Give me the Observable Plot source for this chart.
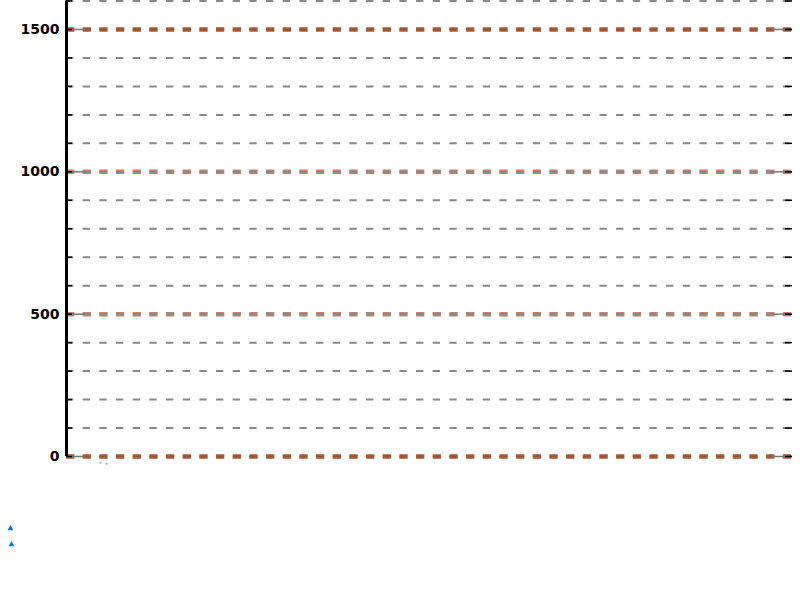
<!DOCTYPE html>
<html>
<head>
<meta charset="utf-8">
<script src="https://cdn.jsdelivr.net/npm/d3@7"></script>
<script src="https://cdn.jsdelivr.net/npm/@observablehq/plot@0.6"></script>
<style>
  html, body { margin: 0; padding: 0; background: #fff; }
  svg { display: block; }
</style>
</head>
<body>
<div id="chart"></div>
<script>
// Tick values
const gridValues = [0, 100, 200, 300, 400, 500, 600, 700, 800, 900, 1000, 1100, 1200, 1300, 1400, 1500, 1600];
const majorValues = [0, 500, 1000, 1500];
const majorLabels = ["0", "500", "1000", "1500"];
// Stray blue marks below the axis
const strayX = [34, 40];
const strayY = [-22, -25];
const triX = [-56, -55];
const triY = [-253, -309];

const minorValues = gridValues.filter(v => !majorValues.includes(v));
const majors = majorValues.map((v, i) => ({v, label: majorLabels[i]}));
const strays = strayX.map((x, i) => ({x, y: strayY[i]}));
const tris = triX.map((x, i) => ({x, y: triY[i]}));

const grayDash = "7.3,9.37";
const brownDash = "8.3,8.37";
const XMAX = 726;

const chart = Plot.plot({
  width: 800,
  height: 600,
  marginTop: 0.5,
  marginBottom: 144,
  marginLeft: 66,
  marginRight: 8,
  x: {domain: [0, XMAX], axis: null},
  y: {domain: [0, 1600], axis: null},
  style: {fontFamily: "DejaVu Sans, sans-serif", background: "#fff"},
  marks: [
    Plot.ruleY([0, 1500], {stroke: "#888", strokeWidth: 2, strokeDasharray: grayDash}),
    Plot.ruleY([0, 1500], {stroke: "#a0522d", strokeWidth: 4.5, strokeOpacity: 0.95, strokeDasharray: brownDash}),
    Plot.ruleY([500, 1000], {stroke: "#a0522d", strokeWidth: 4.5, strokeOpacity: 0.7, strokeDasharray: brownDash}),
    Plot.ruleY(minorValues.concat([500, 1000]), {stroke: "#888", strokeWidth: 2, strokeDasharray: grayDash}),
    Plot.ruleY(majorValues, {x1: 0, x2: 19, stroke: "#777", strokeWidth: 1.5}),
    Plot.ruleY(majorValues, {x1: XMAX - 20, x2: XMAX, stroke: "#777", strokeWidth: 1.5}),
    Plot.ruleY(gridValues, {x1: 0, x2: 6, stroke: "#000", strokeWidth: 1.5}),
    Plot.ruleY(gridValues, {x1: XMAX - 7, x2: XMAX, stroke: "#000", strokeWidth: 1.5}),
    Plot.ruleX([0], {y1: 0, y2: 1600, stroke: "#000", strokeWidth: 3}),
    Plot.text(majors, {x: 0, y: "v", text: "label", dx: -7, textAnchor: "end", fontWeight: "bold", fontSize: 14, fill: "#000"}),
    Plot.dot(strays, {x: "x", y: "y", r: 1.2, fill: "#4a9ee0", fillOpacity: 0.6}),
    Plot.dot(tris, {x: "x", y: "y", r: 2.2, symbol: "triangle", fill: "#1677d2"})
  ]
});
document.getElementById("chart").appendChild(chart);
</script>
</body>
</html>
